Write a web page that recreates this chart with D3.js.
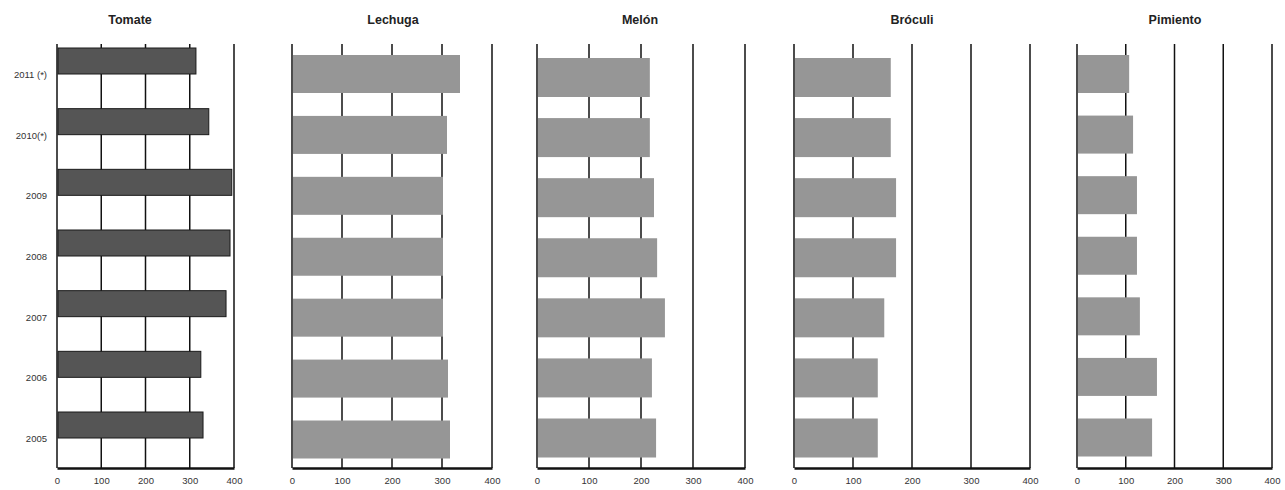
<!DOCTYPE html>
<html><head><meta charset="utf-8">
<script src="https://cdn.jsdelivr.net/npm/d3@7"></script>
<style>body{margin:0;background:#fff}svg{display:block}text{font-family:"Liberation Sans",Arial,sans-serif}</style>
</head><body>
<script>
const years = ["2011 (*)", "2010(*)", "2009", "2008", "2007", "2006", "2005"];
const tomate = [314, 343, 395, 391, 382, 325, 330];
const lechuga = [336, 310, 302, 302, 302, 312, 316];
const melon = [217, 217, 225, 231, 246, 221, 229];
const broculi = [164, 164, 173, 173, 153, 142, 142];
const pimiento = [107, 115, 123, 123, 129, 164, 154];
const ticks = [0, 100, 200, 300, 400];

const W = 1285, H = 490;
const svg = d3.select("body").append("svg").attr("width", W).attr("height", H);

const panels = [
  {title: "Tomate", values: tomate, x0: 57, x1: 234, c0: 61, c1: 425, bh: 26, fill: "#555555", stroke: "#1a1a1a", tx: 130},
  {title: "Lechuga", values: lechuga, x0: 292, x1: 492, c0: 74, c1: 439.5, bh: 38, fill: "#969696", stroke: "none", tx: 393},
  {title: "Melón", values: melon, x0: 537, x1: 745, c0: 77.5, c1: 438, bh: 39, fill: "#969696", stroke: "none", tx: 640},
  {title: "Bróculi", values: broculi, x0: 794, x1: 1030, c0: 77.5, c1: 438, bh: 39, fill: "#969696", stroke: "none", tx: 912},
  {title: "Pimiento", values: pimiento, x0: 1077, x1: 1272, c0: 74, c1: 437.5, bh: 38, fill: "#969696", stroke: "none", tx: 1175}
];
const plotTop = 44, plotBottom = 468;

panels.forEach((p, pi) => {
  const g = svg.append("g");
  const x = d3.scaleLinear().domain([0, 400]).range([p.x0, p.x1]);
  const y = d3.scalePoint().domain(years).range([p.c0, p.c1]);

  g.selectAll("line.grid").data(ticks).join("line")
    .attr("class", "grid")
    .attr("x1", d => x(d)).attr("x2", d => x(d))
    .attr("y1", plotTop).attr("y2", plotBottom)
    .attr("stroke", "#111").attr("stroke-width", 1.5);

  g.selectAll("rect").data(years).join("rect")
    .attr("x", x(0) + 1)
    .attr("y", d => y(d) - p.bh / 2)
    .attr("width", (d, i) => x(p.values[i]) - x(0) - 1)
    .attr("height", p.bh)
    .attr("fill", p.fill)
    .attr("stroke", p.stroke)
    .attr("stroke-width", 1);

  const ax = g.append("g").attr("transform", `translate(0,${plotBottom})`)
    .call(d3.axisBottom(x).tickValues(ticks).tickSize(0).tickPadding(9).tickFormat(d3.format("d")));
  ax.select(".domain").attr("stroke", "#111").attr("stroke-width", 2.4);
  ax.selectAll("text").attr("font-size", 9.5).attr("fill", "#333")
    .attr("font-family", "'Liberation Sans',Arial,sans-serif");

  g.append("text").attr("x", p.tx).attr("y", 24).attr("text-anchor", "middle")
    .attr("font-size", 12.5).attr("font-weight", "bold").attr("fill", "#222").text(p.title);

  if (pi === 0) {
    g.selectAll("text.yl").data(years).join("text")
      .attr("class", "yl")
      .attr("x", 47).attr("y", d => y(d) + 17)
      .attr("text-anchor", "end").attr("font-size", 9.5).attr("fill", "#333")
      .text(d => d);
  }
});
</script>
</body></html>
